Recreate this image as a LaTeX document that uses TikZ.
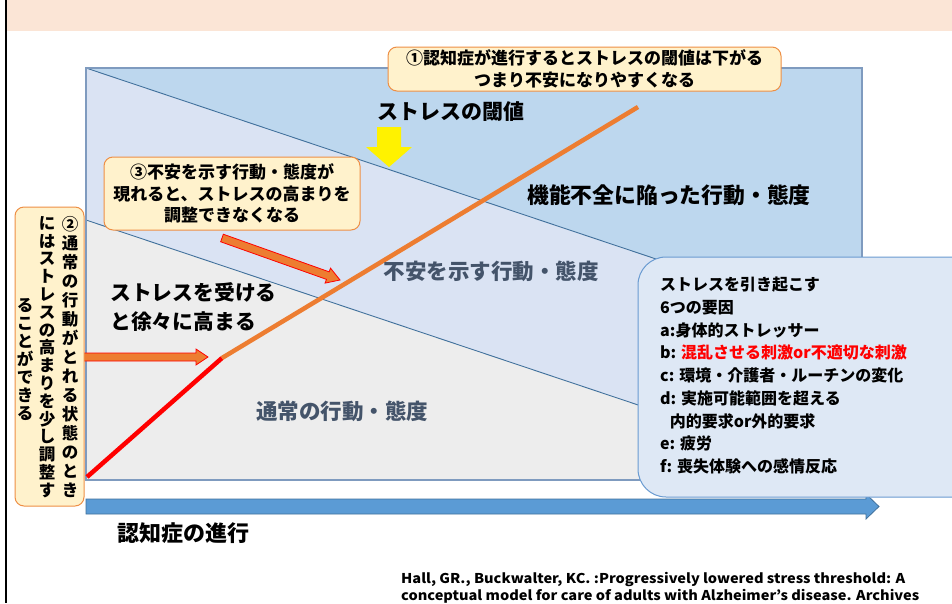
\documentclass[tikz,border=0pt]{standalone}
\usepackage{fontspec}
\setmainfont{Noto Sans CJK JP}
\definecolor{peach}{HTML}{FBE5D6}
\definecolor{bluetop}{HTML}{BDD7EE}
\definecolor{bluemid}{HTML}{DAE3F3}
\definecolor{grayreg}{HTML}{EDEDED}
\definecolor{lineblue}{HTML}{41719C}
\definecolor{chartborder}{HTML}{7F9BBF}
\definecolor{calfill}{HTML}{FFF2CC}
\definecolor{calborder}{HTML}{EE8F45}
\definecolor{boxfill}{HTML}{DEE8F5}
\definecolor{boxborder}{HTML}{6A9BD1}
\definecolor{textgray}{HTML}{44546A}
\definecolor{arrowblue}{HTML}{5B9BD5}
\definecolor{arrowborder}{HTML}{41719C}
\definecolor{orangeA}{HTML}{ED7D31}
\ExplSyntaxOn
\NewDocumentCommand\vtext{m}{
  \seq_clear:N \l_tmpa_seq
  \tl_map_inline:nn {#1} {\seq_put_right:Nn \l_tmpa_seq {##1}}
  \seq_use:Nn \l_tmpa_seq {\\}
}
\ExplSyntaxOff
\tikzset{
  callout/.style={draw=calborder, fill=calfill, line width=1pt, rounded corners=9pt, inner sep=0pt},
  bigbox/.style={draw=boxborder, fill=boxfill, line width=1pt, rounded corners=28pt, inner sep=0pt},
  lbl/.style={inner sep=0pt, font=\fontsize{21}{26}\selectfont\bfseries},
  graylbl/.style={inner sep=0pt, text=textgray, font=\fontsize{21.5}{24}\selectfont\bfseries},
  vcol/.style={inner sep=0pt, align=center},
  thinline/.style={lineblue, line width=0.9pt},
  stressline/.style={line width=4.5pt},
  citestyle/.style={inner sep=0pt, anchor=base west, font=\fontsize{13.5}{18}\selectfont\bfseries},
}
\begin{document}
\begin{tikzpicture}[x=1pt,y=-1pt]
\useasboundingbox (0,0) rectangle (952,603);
\fill[white] (0,0) rectangle (952,603);
\fill[peach] (6,0) rectangle (952,31);
\draw[black, line width=1.5pt] (6,0) -- (6,603);

% chart regions
\fill[bluetop] (86,68) rectangle (862,480);
\fill[bluemid] (86,68) -- (862,328) -- (862,480) -- (86,480) -- cycle;
\fill[grayreg] (86,220) -- (862,480) -- (86,480) -- cycle;
\draw[thinline] (86,68) -- (862,328);
\draw[thinline] (86,220) -- (862,480);
\draw[chartborder, line width=1.5pt] (86,68) rectangle (862,480);

% stress curve
\coordinate (s0) at (87,477);
\coordinate (s1) at (222,358);
\coordinate (s2) at (638,107);
\draw[stressline, red] (s0) -- (s1);
\draw[stressline, orangeA] (s1) -- (s2);

% yellow arrow
\fill[yellow] (377,127) -- (401,127) -- (401,147) -- (412,147) -- (389,167) -- (366,147) -- (377,147) -- cycle;

% horizontal orange arrow
\filldraw[fill=orangeA, draw=red, line width=0.8pt] (83,353) -- (196,353) -- (196,349) -- (208,357) -- (196,365) -- (196,361) -- (83,361) -- cycle;

% diagonal orange arrow
\filldraw[fill=orangeA, draw=red, line width=0.8pt] (223.34,234.23) -- (329.14,271.83) -- (330.5,268.1) -- (340,280) -- (325.1,283.1) -- (326.46,279.37) -- (220.66,241.77) -- cycle;

% bottom blue arrow
\filldraw[fill=arrowblue, draw=arrowborder, line width=0.8pt] (86,499) -- (866,499) -- (866,494) -- (879,506.5) -- (866,519) -- (866,514) -- (86,514) -- cycle;

% labels
\node[lbl] (thr) at (451,112) {ストレスの閾値};
\node[lbl, font=\fontsize{21.8}{26}\selectfont\bfseries] (dys) at (669,195) {機能不全に陥った行動・態度};
\node[graylbl] (anx) at (491,271) {不安を示す行動・態度};
\node[graylbl] (norm) at (342,411) {通常の行動・態度};
\node[lbl, anchor=west, align=left, font=\fontsize{20.8}{29}\selectfont\bfseries] (rise) at (110,307.5) {ストレスを受ける\\と徐々に高まる};
\node[lbl, font=\fontsize{22}{26}\selectfont\bfseries] (prog) at (183,533) {認知症の進行};

% callout 1
\node[callout, minimum width=393pt, minimum height=44pt, align=center,
  font=\fontsize{17}{22.5}\selectfont\bfseries] (c1) at (584.5,69) {①認知症が進行するとストレスの閾値は下がる\\つまり不安になりやすくなる};

% callout 3
\node[callout, minimum width=256pt, minimum height=73pt, align=center,
  font=\fontsize{17}{21.7}\selectfont\bfseries] (c3) at (232,193.5) {③不安を示す行動・態度が\\現れると、ストレスの高まりを\\調整できなくなる};

% callout 2 (vertical)
\node[callout, minimum width=69pt, minimum height=299pt] (c2) at (49.5,356.5) {};
\node[vcol, font=\fontsize{16.5}{19}\selectfont\bfseries] (v1) at (70,357) {\vtext{②通常の行動がとれる状態のとき}};
\node[vcol, font=\fontsize{16.5}{17.8}\selectfont\bfseries] (v2) at (47,357) {\vtext{にはストレスの高まりを少し調整す}};
\node[vcol, font=\fontsize{16.5}{18}\selectfont\bfseries] (v3) at (25,360) {\vtext{ることができる}};

% factors box
\node[bigbox, minimum width=342pt, minimum height=240pt] (fb) at (809,377) {};
\node[inner sep=0pt, anchor=north west, align=left, font=\fontsize{16}{22.7}\selectfont\bfseries] (ft) at (660,277)
 {ストレスを引き起こす\\6つの要因\\a:身体的ストレッサー\\b: \textcolor{red}{混乱させる刺激or不適切な刺激}\\c: 環境・介護者・ルーチンの変化\\d: 実施可能範囲を超える\\\hspace*{0.6em}内的要求or外的要求\\e: 疲労\\f: 喪失体験への感情反応};

% citation
\node[citestyle] (cit1) at (401,583) {\scalebox{1.08}[1]{Hall, GR., Buckwalter, KC. :Progressively lowered stress threshold: A}};
\node[citestyle] (cit2) at (401,600) {\scalebox{1.08}[1]{conceptual model for care of adults with Alzheimer’s disease. Archives}};
\end{tikzpicture}
\end{document}
